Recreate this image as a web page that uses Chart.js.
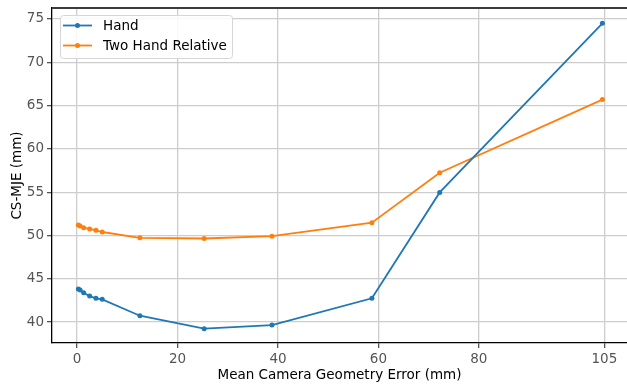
<!DOCTYPE html>
<html>
<head>
<meta charset="utf-8">
<script src="https://cdn.jsdelivr.net/npm/chart.js@4.4.1/dist/chart.umd.min.js"></script>
<style>
  body { margin: 0; background: #fff; }
  canvas { display: block; }
</style>
</head>
<body>
<canvas id="chart" width="627" height="384"></canvas>
<script>
// values
const errorMm = [0.25, 0.6, 1.3, 2.5, 3.75, 5, 12.5, 25.3, 38.8, 58.7, 72.2, 104.6];
const handMje = [43.81, 43.7, 43.38, 43.0, 42.74, 42.62, 40.73, 39.23, 39.65, 42.74, 54.97, 74.5];
const twoHandMje = [51.2, 51.1, 50.9, 50.75, 50.6, 50.4, 49.73, 49.65, 49.92, 51.47, 57.24, 65.69];
const xTicks = [0, 20, 40, 60, 80, 105];
const yTicks = [40, 45, 50, 55, 60, 65, 70, 75];

const FONT = 'DejaVu Sans';
const toPoints = ys => ys.map((y, i) => ({ x: errorMm[i], y }));

// legend drawn inside the plot, upper left like matplotlib
const insideLegend = {
    id: 'insideLegend',
    afterDraw: chart => {
        const ctx = chart.ctx;
        ctx.save();
        // top spine
        ctx.strokeStyle = '#3c3c3c';
        ctx.lineWidth = 2;
        ctx.beginPath();
        ctx.moveTo(chart.chartArea.left, chart.chartArea.top);
        ctx.lineTo(chart.chartArea.right, chart.chartArea.top);
        ctx.stroke();

        const bx = 60, by = 15, bw = 172, bh = 43;
        ctx.fillStyle = 'rgba(255,255,255,0.85)';
        ctx.strokeStyle = '#d6d6d6';
        ctx.lineWidth = 1;
        ctx.beginPath();
        ctx.roundRect(bx + 0.5, by + 0.5, bw, bh, 3);
        ctx.fill();
        ctx.stroke();

        chart.data.datasets.forEach((ds, i) => {
            const y = 25.5 + i * 20;
            ctx.strokeStyle = ds.borderColor;
            ctx.lineWidth = 1.8;
            ctx.beginPath();
            ctx.moveTo(63, y);
            ctx.lineTo(92, y);
            ctx.stroke();
            ctx.fillStyle = ds.borderColor;
            ctx.beginPath();
            ctx.arc(77.5, y, 2.5, 0, Math.PI * 2);
            ctx.fill();
            ctx.fillStyle = '#000';
            ctx.font = '13.5px "' + FONT + '"';
            ctx.textBaseline = 'middle';
            ctx.fillText(ds.label, 103, y + 0.5);
        });
        ctx.restore();
    }
};

new Chart(document.getElementById('chart'), {
    type: 'line',
    data: {
        datasets: [{
            label: 'Hand',
            data: toPoints(handMje),
            borderColor: '#1f77b4',
            backgroundColor: '#1f77b4',
            borderWidth: 1.8,
            pointRadius: 2.5,
            pointBorderWidth: 0
        }, {
            label: 'Two Hand Relative',
            data: toPoints(twoHandMje),
            borderColor: '#ff7f0e',
            backgroundColor: '#ff7f0e',
            borderWidth: 1.8,
            pointRadius: 2.5,
            pointBorderWidth: 0
        }]
    },
    plugins: [insideLegend],
    options: {
        responsive: false,
        animation: false,
        devicePixelRatio: 1,
        layout: { autoPadding: false, padding: { top: 8, right: 0, left: 0, bottom: 0 } },
        plugins: {
            legend: { display: false },
            tooltip: { enabled: false }
        },
        scales: {
            x: {
                type: 'linear',
                min: -5,
                max: 109.5,
                afterBuildTicks: s => { s.ticks = xTicks.map(v => ({ value: v })); },
                afterFit: s => { s.height = 41; s.paddingLeft = 0; s.paddingRight = 0; },
                grid: { color: '#cdcdcd', lineWidth: 1.3, tickLength: 5, tickColor: '#555' },
                border: { color: '#000', width: 1.3 },
                ticks: { color: '#555', font: { family: FONT, size: 13.5 }, padding: 3, maxRotation: 0, autoSkip: false },
                title: { display: true, text: 'Mean Camera Geometry Error (mm)', color: '#000', font: { family: FONT, size: 13.5 }, padding: { top: 1, bottom: 0 } }
            },
            y: {
                min: 37.58,
                max: 76.27,
                afterBuildTicks: s => { s.ticks = yTicks.map(v => ({ value: v })); },
                afterFit: s => { s.width = 52; s.paddingTop = 0; s.paddingBottom = 0; },
                grid: { color: '#cdcdcd', lineWidth: 1.3, tickLength: 5, tickColor: '#555' },
                border: { color: '#000', width: 1.3 },
                ticks: { color: '#555', font: { family: FONT, size: 13.5 }, padding: 3 },
                title: { display: true, text: 'CS-MJE (mm)', color: '#000', font: { family: FONT, size: 13.5 }, padding: { top: 9, bottom: 0 } }
            }
        }
    }
});
</script>
</body>
</html>
